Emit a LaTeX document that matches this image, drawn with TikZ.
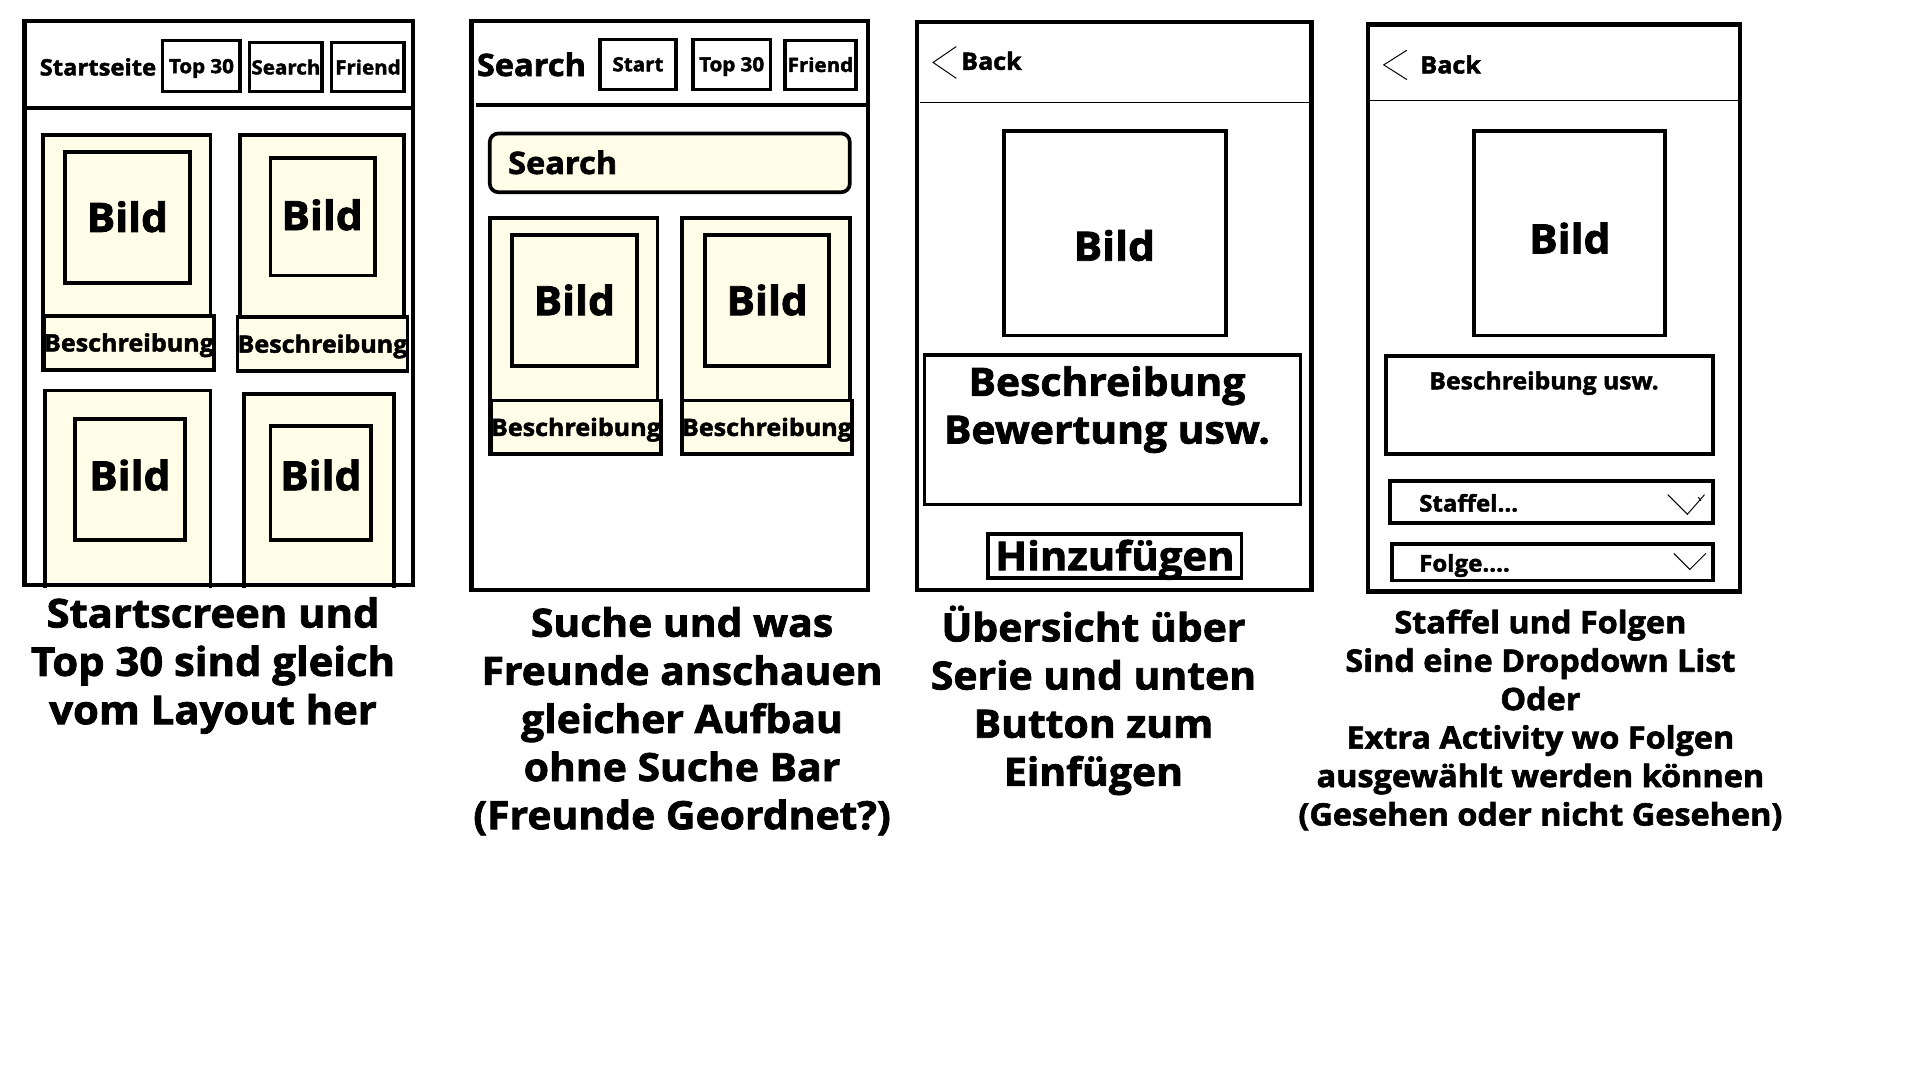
\documentclass[tikz,border=0pt]{standalone}
\usepackage{fontspec}
\setmainfont{Open Sans}[BoldFeatures={FakeBold=2,FakeStretch=1.05}]
\definecolor{cream}{HTML}{FFFCE8}
\tikzset{
  capcenter/.style={text height=#1, text depth=0pt},
  phone/.style={draw, line width=3.5pt, inner sep=0pt, outer sep=0pt},
  card/.style={draw, fill=cream, line width=3pt, inner sep=0pt, outer sep=0pt},
  picbox/.style={draw, line width=3pt, inner sep=0pt, outer sep=0pt, capcenter=23.8pt, font=\bfseries\fontsize{33}{38}\selectfont},
  pictext/.style={inner sep=0pt, outer sep=0pt, capcenter=23.8pt, font=\bfseries\fontsize{33}{38}\selectfont},
  strip/.style={draw, fill=cream, line width=3pt, inner sep=0pt, outer sep=0pt, capcenter=14pt, font=\bfseries\fontsize{19.5}{22}\selectfont},
  btn/.style={draw, line width=2.6pt, inner sep=0pt, outer sep=0pt, capcenter=11.5pt, font=\bfseries\fontsize{16}{18}\selectfont},
  plain/.style={inner sep=0pt, outer sep=0pt, font=\bfseries},
  caption/.style={align=center, inner sep=0pt, font=\bfseries\fontsize{31.8}{39.3}\selectfont},
  thinline/.style={line width=0.8pt},
  sepline/.style={line width=3pt}
}
\begin{document}
\begin{tikzpicture}[x=1pt,y=-1pt]
\useasboundingbox (0,0) rectangle (1568,882);
\fill[white] (0,0) rectangle (1568,882);

% ================= Phone 1 =================
\node[card, anchor=north west, minimum width=137pt, minimum height=192pt] (c11) at (35,110) {};
\node[picbox, anchor=north west, minimum width=102pt, minimum height=107pt] (b11) at (53,124) {Bild};
\node[strip, anchor=north west, minimum width=134pt, minimum height=44pt] (s11) at (36,258) {Beschreibung};
\node[card, anchor=north west, minimum width=134pt, minimum height=193pt] (c12) at (196,110) {};
\node[picbox, anchor=north west, minimum width=85pt, minimum height=96pt] (b12) at (221,129) {};
\node[pictext] (b12t) at (263,176) {Bild};
\node[strip, anchor=north west, minimum width=136pt, minimum height=44pt] (s12) at (194,259) {Beschreibung};
\node[card, anchor=north west, minimum width=135pt, minimum height=165pt] (c13) at (37,319) {};
\node[picbox, anchor=north west, minimum width=90pt, minimum height=99pt] (b13) at (61,342) {};
\node[pictext] (b13t) at (106,388.5) {Bild};
\node[card, anchor=north west, minimum width=123pt, minimum height=162pt] (c14) at (199,322) {};
\node[picbox, anchor=north west, minimum width=82pt, minimum height=93pt] (b14) at (221,348) {};
\node[pictext] (b14t) at (262,388.5) {Bild};
\fill[white] (15,480) rectangle (345,500);
\node[phone, anchor=north west, minimum width=317pt, minimum height=461pt] (p1) at (20,17) {};
\draw[sepline] (p1.west |- 0,88) coordinate (p1l) -- (p1.east |- 0,88) coordinate (p1r);
\node[plain, capcenter=13.3pt, font=\bfseries\fontsize{18.5}{20}\selectfont] (t1) at (80,55) {Startseite};
\node[btn, anchor=north west, minimum width=63pt, minimum height=42pt] (b1a) at (133,33) {Top 30};
\node[btn, anchor=north west, minimum width=59pt, minimum height=40pt] (b1b) at (204,35) {Search};
\node[btn, anchor=north west, minimum width=59pt, minimum height=40pt] (b1c) at (271,35) {Friend};
\node[caption, font=\bfseries\fontsize{32.5}{39.5}\selectfont] (cap1) at (174,543.5) {Startscreen und\\Top 30 sind gleich\\vom Layout her};

% ================= Phone 2 =================
\node[phone, anchor=north west, minimum width=324pt, minimum height=465pt] (p2) at (385,17) {};
\draw[sepline] (389,86) coordinate (p2l) -- (707,86) coordinate (p2r);
\node[plain, capcenter=18.2pt, font=\bfseries\fontsize{25.3}{28}\selectfont] (t2) at (434,53) {Search};
\node[btn, anchor=north west, minimum width=62pt, minimum height=41pt] (b2a) at (490,32) {Start};
\node[btn, anchor=north west, minimum width=63pt, minimum height=41pt] (b2b) at (566,32) {Top 30};
\node[btn, anchor=north west, minimum width=58pt, minimum height=40pt] (b2c) at (641,33) {Friend};
\node[card, rounded corners=7pt, anchor=north west, minimum width=294pt, minimum height=48pt] (sb) at (400,109) {};
\node[plain, capcenter=18.2pt, anchor=west, font=\bfseries\fontsize{25.3}{28}\selectfont] (sbt) at (415,133) {Search};
\node[card, anchor=north west, minimum width=137pt, minimum height=193pt] (c21) at (400,178) {};
\node[picbox, anchor=north west, minimum width=102pt, minimum height=107pt] (b21) at (418,192) {Bild};
\node[strip, anchor=north west, minimum width=135pt, minimum height=44pt] (s21) at (401,327) {Beschreibung};
\node[card, anchor=north west, minimum width=137pt, minimum height=193pt] (c22) at (557,178) {};
\node[picbox, anchor=north west, minimum width=101pt, minimum height=107pt] (b22) at (576,192) {Bild};
\node[strip, anchor=north west, minimum width=136pt, minimum height=44pt] (s22) at (557,327) {Beschreibung};
\node[caption] (cap2) at (557,589) {Suche und was\\Freunde anschauen\\gleicher Aufbau\\ohne Suche Bar\\(Freunde Geordnet?)};

% ================= Phone 3 =================
\node[phone, anchor=north west, minimum width=322pt, minimum height=464pt] (p3) at (749,18) {};
\draw[thinline] (751,84) coordinate (p3l) -- (1069,84) coordinate (p3r);
\coordinate (ch3a) at (781,38); \coordinate (ch3b) at (762,51); \coordinate (ch3c) at (781,64);
\draw[thinline] (ch3a) -- (ch3b) -- (ch3c);
\node[plain, capcenter=14pt, anchor=west, font=\bfseries\fontsize{19.5}{22}\selectfont] (bk3) at (785,50) {Back};
\node[picbox, anchor=north west, minimum width=181pt, minimum height=167pt] (b3) at (820,107) {};
\node[pictext] (b3t) at (910,201) {Bild};
\node[picbox, anchor=north west, minimum width=307pt, minimum height=122pt] (d3) at (755,290) {};
\node[plain, align=center, font=\bfseries\fontsize{31.8}{39}\selectfont] (d3t) at (904,334.5) {Beschreibung\\Bewertung usw.};
\node[btn, line width=3pt, anchor=north west, minimum width=207pt, minimum height=36pt, capcenter=23.4pt, font=\bfseries\fontsize{32.5}{34}\selectfont] (h3) at (807,436) {Hinzufügen};
\node[caption] (cap3) at (893,572) {Übersicht über\\Serie und unten\\Button zum\\Einfügen};

% ================= Phone 4 =================
\node[phone, anchor=north west, minimum width=304pt, minimum height=463pt] (p4) at (1117,20) {};
\draw[thinline] (1119,82) coordinate (p4l) -- (1419,82) coordinate (p4r);
\coordinate (ch4a) at (1149,41); \coordinate (ch4b) at (1130,53); \coordinate (ch4c) at (1149,65);
\draw[thinline] (ch4a) -- (ch4b) -- (ch4c);
\node[plain, capcenter=14pt, anchor=west, font=\bfseries\fontsize{19.5}{22}\selectfont] (bk4) at (1160,53) {Back};
\node[picbox, anchor=north west, minimum width=156pt, minimum height=167pt] (b4) at (1204,107) {};
\node[pictext] (b4t) at (1282,195) {Bild};
\node[picbox, anchor=north west, minimum width=267pt, minimum height=80pt] (d4) at (1132,291) {};
\node[plain, capcenter=13.8pt, font=\bfseries\fontsize{19.2}{20}\selectfont] (d4t) at (1261,311) {Beschreibung usw.};
\node[btn, line width=3pt, anchor=north west, minimum width=264pt, minimum height=34pt] (dd1) at (1135,393) {};
\node[plain, capcenter=13.5pt, anchor=west, font=\bfseries\fontsize{18.7}{20}\selectfont] (dd1t) at (1159,411) {Staffel...};
\coordinate (v1a) at (1362,404); \coordinate (v1b) at (1378,420); \coordinate (v1c) at (1392,404);
\draw[thinline] (v1a) -- (v1b) -- (v1c);
\coordinate (v1d) at (1389,409); \coordinate (v1e) at (1387,406);
\draw[thinline] (v1d) -- (v1e);
\node[btn, line width=3pt, anchor=north west, minimum width=262pt, minimum height=30pt] (dd2) at (1137,444) {};
\node[plain, capcenter=13.5pt, anchor=west, font=\bfseries\fontsize{18.7}{20}\selectfont] (dd2t) at (1159,460) {Folge....};
\coordinate (v2a) at (1367,452); \coordinate (v2b) at (1380,465); \coordinate (v2c) at (1393,452);
\draw[thinline] (v2a) -- (v2b) -- (v2c);
\node[caption, font=\bfseries\fontsize{25.2}{31.4}\selectfont] (cap4) at (1258,588) {Staffel und Folgen\\Sind eine Dropdown List\\Oder\\Extra Activity wo Folgen\\ausgewählt werden können\\(Gesehen oder nicht Gesehen)};
\end{tikzpicture}
\end{document}
